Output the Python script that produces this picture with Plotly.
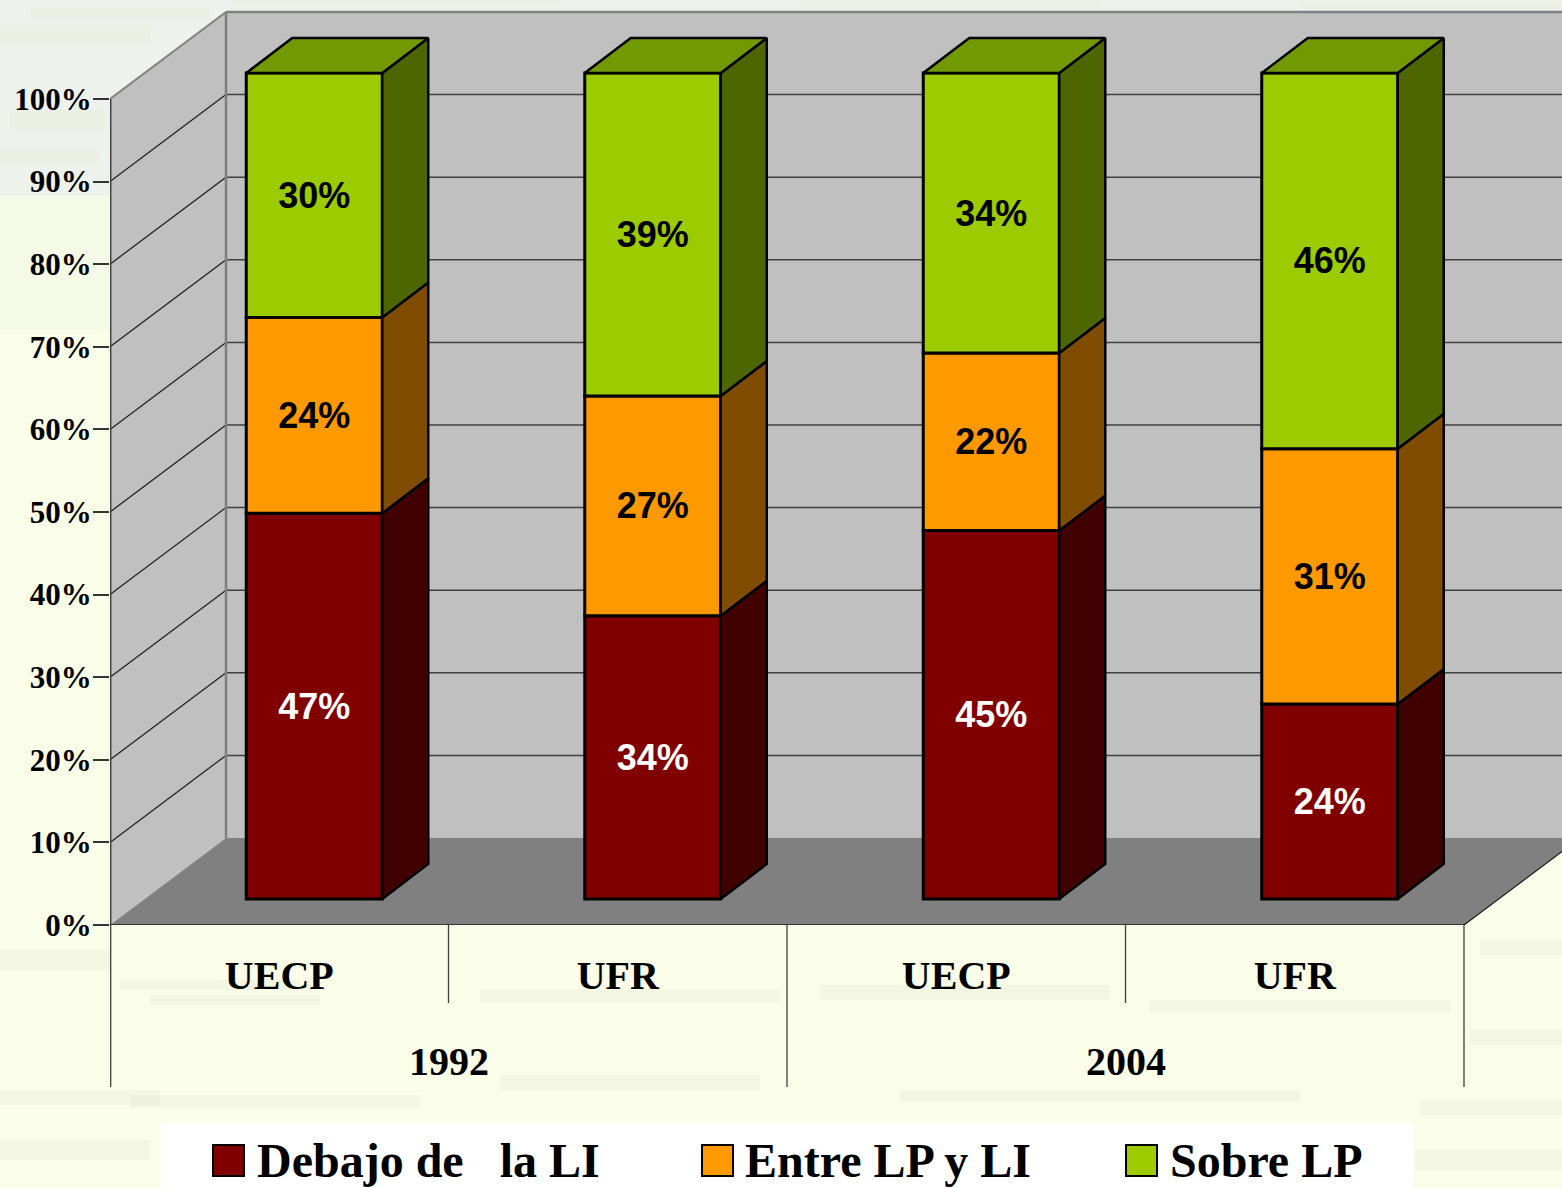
import plotly.graph_objects as go

# ---- data ----
groups = ["1992", "2004"]
categories = ["UECP", "UFR", "UECP", "UFR"]
series_names = ["Debajo de\u00a0\u00a0 la LI", "Entre LP y LI", "Sobre LP"]
debajo = [46.7, 34.3, 44.6, 23.6]
entre = [23.7, 26.6, 21.5, 30.9]
sobre = [29.6, 39.1, 33.9, 45.5]
y_ticks = [0, 10, 20, 30, 40, 50, 60, 70, 80, 90, 100]
y_tick_text = ["0%", "10%", "20%", "30%", "40%", "50%", "60%", "70%", "80%", "90%", "100%"]

# ---- styling ----
front = ["#800000", "#FF9900", "#9CCC00"]
side = ["#400000", "#804D00", "#4D6600"]
top_col = "#739900"
label_col = ["white", "black", "black"]
SERIF = "Liberation Serif"
SANS = "Liberation Sans"

W, H = 1562, 1188
L, B = 110, 925               # front-plane origin in page pixels
PX_X = 338.5                  # pixels per category
PX_Y = 8.26                   # pixels per percent
X0, X1 = -0.5, (W - L) / PX_X - 0.5
Y0, Y1 = 0, B / PX_Y


def dx(px):
    return px / PX_X


def dy(px):
    return px / PX_Y


def pxp(px):
    return (px - L) / (W - L)


def pyp(py):
    return (B - py) / B


WALL_DX, WALL_DY = dx(116), dy(87)
BAR_DX, BAR_DY = dx(35), dy(26)
SIDE_DX, SIDE_DY = dx(46), dy(35)
BAR_W = dx(136)
xs = list(range(len(categories)))
xleft = [x + BAR_DX - BAR_W / 2 for x in xs]
xright = [x + BAR_DX + BAR_W / 2 for x in xs]

fig = go.Figure()
all_series = [debajo, entre, sobre]
bases = [BAR_DY] * len(xs)
sides = []
for name, vals, fc, sc, tc in zip(series_names, all_series, front, side, label_col):
    fig.add_bar(
        x=[x + BAR_DX for x in xs], y=vals, base=list(bases), width=BAR_W, name=name,
        marker=dict(color=fc, line=dict(color="black", width=3)),
        text=[f"{v:.0f}%" for v in vals], textposition="inside", insidetextanchor="middle",
        textangle=0, constraintext="none",
        textfont=dict(family=SANS, size=36, color=tc, weight="bold"),
        hoverinfo="skip", showlegend=False,
    )
    px_, py_ = [], []
    for i in xs:
        b0, b1 = bases[i], bases[i] + vals[i]
        r = xright[i]
        px_ += [r, r + SIDE_DX, r + SIDE_DX, r, r, None]
        py_ += [b0, b0 + SIDE_DY, b1 + SIDE_DY, b1, b0, None]
    sides.append((name, px_, py_, sc))
    bases = [b + v for b, v in zip(bases, vals)]

for name, px_, py_, sc in sides:
    fig.add_scatter(x=px_, y=py_, mode="lines", fill="toself", fillcolor=sc,
                    line=dict(color="black", width=2.5), hoverinfo="skip", showlegend=False)
tx, ty = [], []
for i in xs:
    t = bases[i]
    tx += [xleft[i], xleft[i] + SIDE_DX, xright[i] + SIDE_DX, xright[i], xleft[i], None]
    ty += [t, t + SIDE_DY, t + SIDE_DY, t, t, None]
fig.add_scatter(x=tx, y=ty, mode="lines", fill="toself", fillcolor=top_col,
                line=dict(color="black", width=2.5), hoverinfo="skip", showlegend=False)

shapes = []


def rect_px(x0, y0, x1, y1, color, opacity=1.0):
    shapes.append(dict(type="rect", xref="paper", yref="paper", x0=pxp(x0), x1=pxp(x1),
                       y0=pyp(y0), y1=pyp(y1), fillcolor=color, opacity=opacity,
                       line=dict(width=0), layer="below"))


# page background
rect_px(0, 0, W, 195, "#EEF2EC")
rect_px(0, 195, W, 330, "#F5FAE6")
rect_px(0, 330, W, H, "#FAFDE8")
for sx0, sy0, sx1, sy1 in [(0, 25, 150, 45), (10, 110, 105, 130), (0, 150, 100, 165), (30, 8, 210, 18),
                           (230, 0, 560, 6), (800, 0, 1100, 7), (1300, 2, 1562, 9),
                           (0, 950, 110, 970), (120, 980, 300, 990), (150, 995, 320, 1005),
                           (480, 990, 780, 1002), (820, 985, 1110, 1000), (1150, 1000, 1450, 1012),
                           (0, 1090, 160, 1105), (0, 1140, 150, 1160), (130, 1095, 420, 1108),
                           (500, 1075, 760, 1090), (900, 1090, 1300, 1102), (1420, 1100, 1562, 1115),
                           (1470, 1030, 1562, 1045), (1480, 940, 1562, 955), (1415, 1150, 1562, 1170)]:
    rect_px(sx0, sy0, sx1, sy1, "#E6E9D2", 0.3)


def poly(pts, fill):
    path = "M" + " L".join(f"{a},{b}" for a, b in pts) + " Z"
    shapes.append(dict(type="path", xref="x", yref="y", path=path, fillcolor=fill,
                       line=dict(width=0), layer="below"))


def line(x0, y0, x1, y1, color, width):
    shapes.append(dict(type="line", xref="x", yref="y", x0=x0, y0=y0, x1=x1, y1=y1,
                       line=dict(color=color, width=width), layer="below"))


WALL_TOP = y_ticks[-1] + WALL_DY
RIGHT = len(xs) - 0.5
poly([(X0, 0), (X0 + WALL_DX, WALL_DY), (X0 + WALL_DX, WALL_TOP), (X0, y_ticks[-1])], "#C0C0C0")
poly([(X0 + WALL_DX, WALL_DY), (RIGHT + WALL_DX, WALL_DY), (RIGHT + WALL_DX, WALL_TOP), (X0 + WALL_DX, WALL_TOP)], "#C0C0C0")
poly([(X0, 0), (X0 + WALL_DX, WALL_DY), (RIGHT + WALL_DX, WALL_DY), (RIGHT, 0)], "#808080")
for v in y_ticks[1:-1]:
    line(X0, v, X0 + WALL_DX, v + WALL_DY, "#1A1A1A", 1.2)
    line(X0 + WALL_DX, v + WALL_DY, RIGHT + WALL_DX, v + WALL_DY, "#404040", 1.5)
line(X0, y_ticks[-1], X0 + WALL_DX, WALL_TOP, "#808080", 2)
line(X0 + WALL_DX, WALL_TOP, RIGHT + WALL_DX, WALL_TOP, "#808080", 2.5)
line(X0 + WALL_DX, WALL_DY, X0 + WALL_DX, WALL_TOP, "#808080", 2.5)
line(X0 + 0.002, 0, X0 + 0.002, y_ticks[-1], "#404040", 1.5)
line(X0, 0, RIGHT, 0, "#1A1A1A", 1.5)
line(RIGHT, 0, RIGHT + WALL_DX, WALL_DY, "#1A1A1A", 1.2)

# category dividers below the floor
for x, bottom in [(-0.498, 1087), (0.5, 1003), (1.5, 1087), (2.5, 1003), (3.5, 1087)]:
    shapes.append(dict(type="line", xref="x", yref="paper", x0=x, x1=x, y0=pyp(B), y1=pyp(bottom),
                       line=dict(color="#404040", width=1.3), layer="below"))

# legend box
rect_px(161, 1123, 1413, H, "white")
annotations = []
for name, fc, sx, tx_ in zip(series_names, front, [213, 702, 1126], [255, 743, 1168]):
    shapes.append(dict(type="rect", xref="paper", yref="paper", x0=pxp(sx), x1=pxp(sx + 31),
                       y0=pyp(1176), y1=pyp(1145), fillcolor=fc,
                       line=dict(color="black", width=2), layer="above"))
    annotations.append(dict(xref="paper", yref="paper", x=pxp(tx_), y=pyp(1160), text=name,
                            xanchor="left", yanchor="middle", showarrow=False,
                            font=dict(family=SERIF, size=48, color="black", weight="bold")))
for g, x in zip(groups, [0.5, 2.5]):
    annotations.append(dict(xref="x", yref="paper", x=x, y=pyp(1061), text=g, xanchor="center",
                            yanchor="middle", showarrow=False,
                            font=dict(family=SERIF, size=40, color="black", weight="bold")))

fig.update_layout(
    width=W, height=H, autosize=False,
    margin=dict(l=L, r=0, t=0, b=H - B, pad=0),
    paper_bgcolor="#FAFDE8", plot_bgcolor="rgba(0,0,0,0)",
    barmode="overlay", shapes=shapes, annotations=annotations, showlegend=False,
    xaxis=dict(range=[X0, X1], tickvals=xs, ticktext=categories, showgrid=False, zeroline=False,
               showline=False, ticks="outside", ticklen=15, tickcolor="rgba(0,0,0,0)",
               tickfont=dict(family=SERIF, size=40, color="black", weight="bold")),
    yaxis=dict(range=[Y0, Y1], tickvals=y_ticks, ticktext=y_tick_text, showgrid=False, zeroline=False,
               showline=False, ticks="outside", ticklen=16, tickwidth=1.5, tickcolor="#333333",
               ticklabelstandoff=-5,
               tickfont=dict(family=SERIF, size=31, color="black", weight="bold")),
)
fig.write_html("out.html", config=dict(displayModeBar=False),
               post_script="document.body.style.margin='0';document.body.style.overflow='hidden';")
